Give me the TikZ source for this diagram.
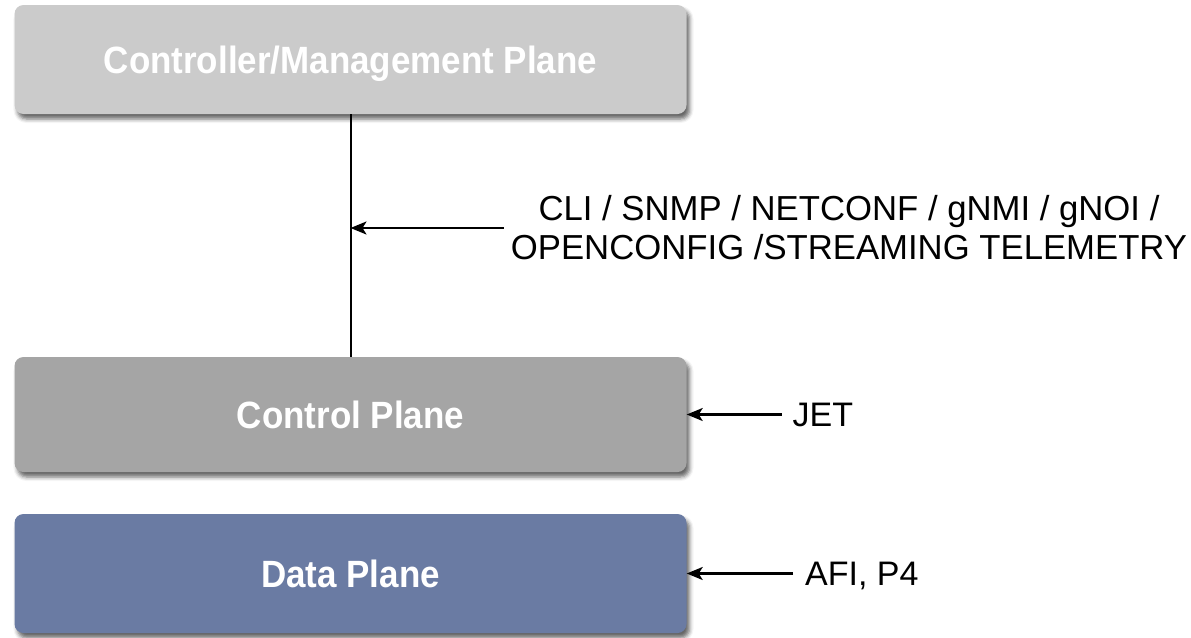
\documentclass[tikz,border=0pt]{standalone}
\usepackage{fontspec}
\setmainfont{Liberation Sans}
\newfontfamily\planefont{Liberation Sans}[FakeStretch=0.92]
\usetikzlibrary{arrows.meta,shadows.blur}

\definecolor{mgmtgray}{HTML}{CBCBCB}
\definecolor{ctrlgray}{HTML}{A5A5A5}
\definecolor{datablue}{HTML}{6A7BA3}

\tikzset{
  plane/.style={rectangle, rounded corners=9pt, inner sep=0pt,
    minimum width=672pt, text=white,
    font=\planefont\fontsize{38}{44}\selectfont\bfseries,
    text height=27pt, text depth=0pt,
    blur shadow={shadow xshift=3pt, shadow yshift=-5pt,
      shadow blur radius=4pt, shadow opacity=60}},
  iflabel/.style={inner sep=0pt, font=\fontsize{34}{40}\selectfont,
    text height=24.5pt, text depth=0pt},
  arr/.style={line width=2.2pt, -{Stealth[length=16pt,width=13pt,inset=4pt]}},
  link/.style={line width=2pt}
}

\begin{document}
\begin{tikzpicture}[x=1pt,y=-1pt]
\useasboundingbox (0,0) rectangle (1191,637);

% the three planes
\node[plane, fill=mgmtgray, minimum height=109pt] (mgmt) at (350.5,59.5)
  {Controller/Management Plane};
\node[plane, fill=ctrlgray, minimum height=115pt] (ctrl) at (350.5,414.5)
  {Control Plane};
\node[plane, fill=datablue, minimum height=119pt] (data) at (350.5,573.5)
  {Data Plane};

% management link between controller and control plane
\draw[link] (mgmt.south) -- (ctrl.north);

% interface labels
\node[inner sep=0pt, align=center, font=\fontsize{34.7}{39}\selectfont] (cli) at (849,228)
  {CLI / SNMP / NETCONF / gNMI / gNOI /\\OPENCONFIG /STREAMING TELEMETRY};
\node[iflabel, anchor=west] (jet) at (792.5,414.5) {JET};
\node[iflabel, anchor=west] (afi) at (805,573.5) {AFI, P4};

% interface arrows
\draw[arr, shorten <=7pt] (cli.west) -- (mgmt.south |- cli.west);
\draw[arr, shorten <=11pt] (jet.west) -- (ctrl.east |- jet.west);
\draw[arr, shorten <=12pt] (afi.west) -- (data.east |- afi.west);
\end{tikzpicture}
\end{document}
